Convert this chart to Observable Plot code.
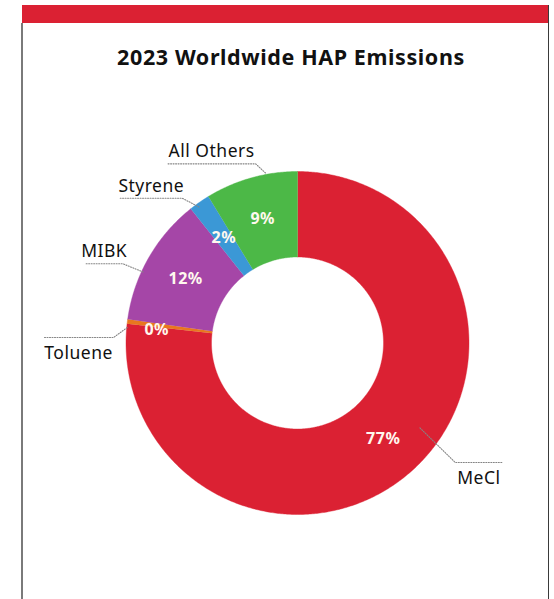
<!DOCTYPE html>
<html>
<head>
<meta charset="utf-8">
<script src="https://cdn.jsdelivr.net/npm/d3@7"></script>
<script src="https://cdn.jsdelivr.net/npm/@observablehq/plot@0.6"></script>
<style>
  html, body { margin: 0; padding: 0; background: #fff; }
  #page { position: relative; width: 554px; height: 599px; overflow: hidden; font-family: "Noto Sans", "Open Sans", sans-serif; }
  #topbar { position: absolute; left: 22px; top: 5px; width: 526px; height: 18px; background: #db2133; }
  #lborder { position: absolute; left: 21px; top: 23px; width: 2px; height: 576px; background: #7a7a7a; }
  #rborder { position: absolute; left: 547.5px; top: 5px; width: 1.5px; height: 594px; background: #3a3a3a; }
  #title { position: absolute; left: 0; width: 582px; top: 42px; text-align: center; font-size: 21.5px; font-weight: 700; color: #111; letter-spacing: 0.6px; }
  #chart { position: absolute; left: 0; top: 0; }
</style>
</head>
<body>
<div id="page">
  <div id="topbar"></div>
  <div id="lborder"></div>
  <div id="rborder"></div>
  <div id="title">2023 Worldwide HAP Emissions</div>
  <div id="chart"></div>
</div>
<script>
// ---- data ----
const categories = ["MeCl", "Toluene", "MIBK", "Styrene", "All Others"];
const shares = [76.8, 0.4, 12.1, 2.0, 8.7];            // percent of total
const shareLabels = ["77%", "0%", "12%", "2%", "9%"];
const colors = ["#db2133", "#e8771f", "#a546a7", "#3b98d6", "#4cb847"];

// ---- layout (pixels) ----
const W = 554, H = 599;
const cx = 297, cy = 342.5, R = 171.5, r0 = 86;
// leader layout per category: angle offset from slice middle (deg), start radius, elbow angle offset, elbow radius,
// horizontal run (px, signed), label side
const leaderLayout = {
  "MeCl":       {startOff: -13.5, startR: 149, elbowOff: -11.1, elbowR: 198, run: 47,  side: "below"},
  "Toluene":    {startOff: -2,    startR: 171, elbowOff: -5.5,  elbowR: 184, run: -70, side: "below"},
  "MIBK":       {startOff: -5,    startR: 170, elbowOff: -5.3,  elbowR: 192, run: -37, side: "above"},
  "Styrene":    {startOff: -1,    startR: 168, elbowOff: -3.6,  elbowR: 185, run: -62, side: "above"},
  "All Others": {startOff: 5,     startR: 173, elbowOff: 2.5,   elbowR: 184, run: -88, side: "above"}
};
const pctNudge = {"Toluene": [-13, 3]};

const rows = categories.map((c, i) => ({category: c, value: shares[i], label: shareLabels[i], color: colors[i]}));
const pie = d3.pie().sort(null).value(d => d.value)(rows);

const pt = (angDeg, rad) => {
  const a = angDeg * Math.PI / 180;
  return [cx + rad * Math.sin(a), cy - rad * Math.cos(a)];
};

// slice polygons
const polys = [];
pie.forEach(p => {
  const a0 = p.startAngle * 180 / Math.PI, a1 = p.endAngle * 180 / Math.PI;
  const n = Math.max(2, Math.ceil((a1 - a0) / 0.5));
  const pts = [];
  for (let k = 0; k <= n; k++) pts.push(pt(a0 + (a1 - a0) * k / n, R));
  for (let k = n; k >= 0; k--) pts.push(pt(a0 + (a1 - a0) * k / n, r0));
  pts.forEach(([x, y], j) => polys.push({category: p.data.category, color: p.data.color, x, y, j}));
});

// percent labels at mid radius
const pctLabels = pie.map(p => {
  const mid = (p.startAngle + p.endAngle) / 2 * 180 / Math.PI;
  let [x, y] = pt(mid, (R + r0) / 2);
  const nd = pctNudge[p.data.category];
  if (nd) { x += nd[0]; y += nd[1]; }
  return {x, y, text: p.data.label};
});

// leaders
const leaderPts = [];
const leaderText = [];
pie.forEach(p => {
  const L = leaderLayout[p.data.category];
  const mid = (p.startAngle + p.endAngle) / 2 * 180 / Math.PI;
  const s = pt(mid + L.startOff, L.startR);
  const e = pt(mid + L.elbowOff, L.elbowR);
  const f = [e[0] + L.run, e[1]];
  [s, e, f].forEach(([x, y], j) => leaderPts.push({category: p.data.category, x, y, j}));
  leaderText.push({x: (e[0] + f[0]) / 2, y: e[1], text: p.data.category, side: L.side});
});

const chart = Plot.plot({
  width: W, height: H,
  margin: 0,
  x: {domain: [0, W], range: [0, W], axis: null},
  y: {domain: [0, H], range: [0, H], axis: null},
  style: {background: "transparent", fontFamily: "'Noto Sans', 'Open Sans', sans-serif"},
  marks: [
    Plot.line(polys, {x: "x", y: "y", z: "category", fill: "color", stroke: "color", strokeWidth: 0.4, curve: "linear"}),
    Plot.line(leaderPts, {x: "x", y: "y", z: "category", stroke: "#858585", strokeWidth: 1.1, strokeDasharray: "1,1.5", fill: "none"}),
    Plot.text(pctLabels, {x: "x", y: "y", text: "text", fill: "#fff8ee", fontSize: 16, fontWeight: 700, textAnchor: "middle", lineAnchor: "middle"}),
    Plot.text(leaderText.filter(d => d.side === "above"), {x: "x", y: "y", text: "text", fill: "#111", fontSize: 17.5, lineAnchor: "bottom", textAnchor: "middle", dy: -6.5}),
    Plot.text(leaderText.filter(d => d.side === "below"), {x: "x", y: "y", text: "text", fill: "#111", fontSize: 17.5, lineAnchor: "top", textAnchor: "middle", dy: 9.5})
  ]
});
chart.querySelectorAll("text").forEach(t => t.style.letterSpacing = "0.5px");
document.getElementById("chart").appendChild(chart);
</script>
</body>
</html>
